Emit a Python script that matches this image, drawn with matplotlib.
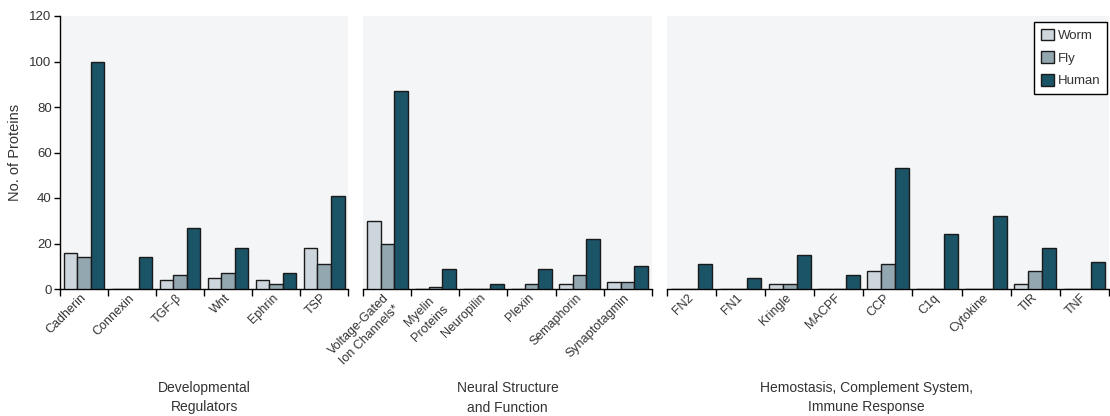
import numpy as np
import matplotlib
matplotlib.use("Agg")
import matplotlib.pyplot as plt
from matplotlib.patches import Patch
from matplotlib.transforms import ScaledTranslation

# --- Protein family counts per organism ---
dev_labels = ["Cadherin", "Connexin", "TGF-\u03b2", "Wnt", "Ephrin", "TSP"]
dev_worm = [16, 0, 4, 5, 4, 18]
dev_fly = [14, 0, 6, 7, 2, 11]
dev_human = [100, 14, 27, 18, 7, 41]

neural_labels = ["Voltage-Gated\nIon Channels*", "Myelin\nProteins", "Neuropilin",
                 "Plexin", "Semaphorin", "Synaptotagmin"]
neural_worm = [30, 0, 0, 0, 2, 3]
neural_fly = [20, 1, 0, 2, 6, 3]
neural_human = [87, 9, 2, 9, 22, 10]

immune_labels = ["FN2", "FN1", "Kringle", "MACPF", "CCP", "C1q", "Cytokine", "TIR", "TNF"]
immune_worm = [0, 0, 2, 0, 8, 0, 0, 2, 0]
immune_fly = [0, 0, 2, 0, 11, 0, 0, 8, 0]
immune_human = [11, 5, 15, 6, 53, 24, 32, 18, 12]

group_titles = ["Developmental\nRegulators", "Neural Structure\nand Function",
                "Hemostasis, Complement System,\nImmune Response"]
species = ["Worm", "Fly", "Human"]
colors = ["#cdd6dd", "#93a7b1", "#1b5367"]

panels = [
    (dev_labels, [dev_worm, dev_fly, dev_human]),
    (neural_labels, [neural_worm, neural_fly, neural_human]),
    (immune_labels, [immune_worm, immune_fly, immune_human]),
]

plt.rcParams["font.family"] = ["Liberation Sans", "DejaVu Sans"]
text_color = "#333333"

fig = plt.figure(figsize=(11.10, 4.16), dpi=100)
W, H = 1110, 416
gs = fig.add_gridspec(1, 3, left=60 / W, right=1109 / W, top=1 - 16 / H, bottom=1 - 289 / H,
                      width_ratios=[290, 290, 445], wspace=0.045)

# x centre of each group caption (figure pixels); None = centre of panel
caption_x = [None, None, 866]

bw = 0.283
for i, (labels, series) in enumerate(panels):
    ax = fig.add_subplot(gs[0, i])
    ax.set_facecolor("#f4f5f7")
    n = len(labels)
    x = np.arange(n)
    for k, vals in enumerate(series):
        ax.bar(x + (k - 1) * bw, vals, width=bw, color=colors[k],
               edgecolor="#1a1a1a", linewidth=1.0, zorder=3)
    ax.set_xlim(-0.5, n - 0.5)
    ax.set_ylim(0, 120)

    for side in ["top", "right"]:
        ax.spines[side].set_visible(False)
    ax.spines["bottom"].set_linewidth(1.0)

    # tick marks at category boundaries, labels at category centres
    ax.set_xticks(np.arange(n + 1) - 0.5, minor=True)
    ax.set_xticks(x)
    ax.tick_params(axis="x", which="minor", length=5, width=1.0, direction="out")
    ax.tick_params(axis="x", which="major", length=0, pad=2)
    ax.set_xticklabels(labels, rotation=45, ha="right", rotation_mode="anchor",
                       fontsize=9, color=text_color, multialignment="center",
                       linespacing=1.35)
    shift = ScaledTranslation(-4 / 100, 0, fig.dpi_scale_trans)
    for lab in ax.get_xticklabels():
        lab.set_transform(lab.get_transform() + shift)

    if i == 0:
        ax.spines["left"].set_linewidth(1.0)
        ax.set_yticks(np.arange(0, 121, 20))
        ax.tick_params(axis="y", length=4, width=1.0, labelsize=9.5,
                       labelcolor=text_color, pad=2)
        ax.set_ylabel("No. of Proteins", fontsize=10.5, color=text_color, labelpad=5)
    else:
        ax.spines["left"].set_visible(False)
        ax.set_yticks([])

    # group caption below each panel
    pos = ax.get_position()
    cx = (pos.x0 + pos.x1) / 2 if caption_x[i] is None else caption_x[i] / W
    fig.text(cx, 1 - 381 / H, group_titles[i], ha="center", va="top",
             fontsize=10, color=text_color, linespacing=1.5)

    if i == 2:
        handles = [Patch(facecolor=c, edgecolor="#1a1a1a", linewidth=1.0) for c in colors]
        leg = ax.legend(handles, species, loc="upper right",
                        bbox_to_anchor=(1107 / W, 1 - 22 / H), bbox_transform=fig.transFigure,
                        borderaxespad=0, fancybox=False, framealpha=1, edgecolor="black",
                        fontsize=9.5, handlelength=1.0, handleheight=1.0, handletextpad=0.3,
                        labelspacing=0.7, borderpad=0.5)
        leg.get_frame().set_linewidth(1.0)
        for t in leg.get_texts():
            t.set_color(text_color)

fig.savefig("out.png", dpi=100)
